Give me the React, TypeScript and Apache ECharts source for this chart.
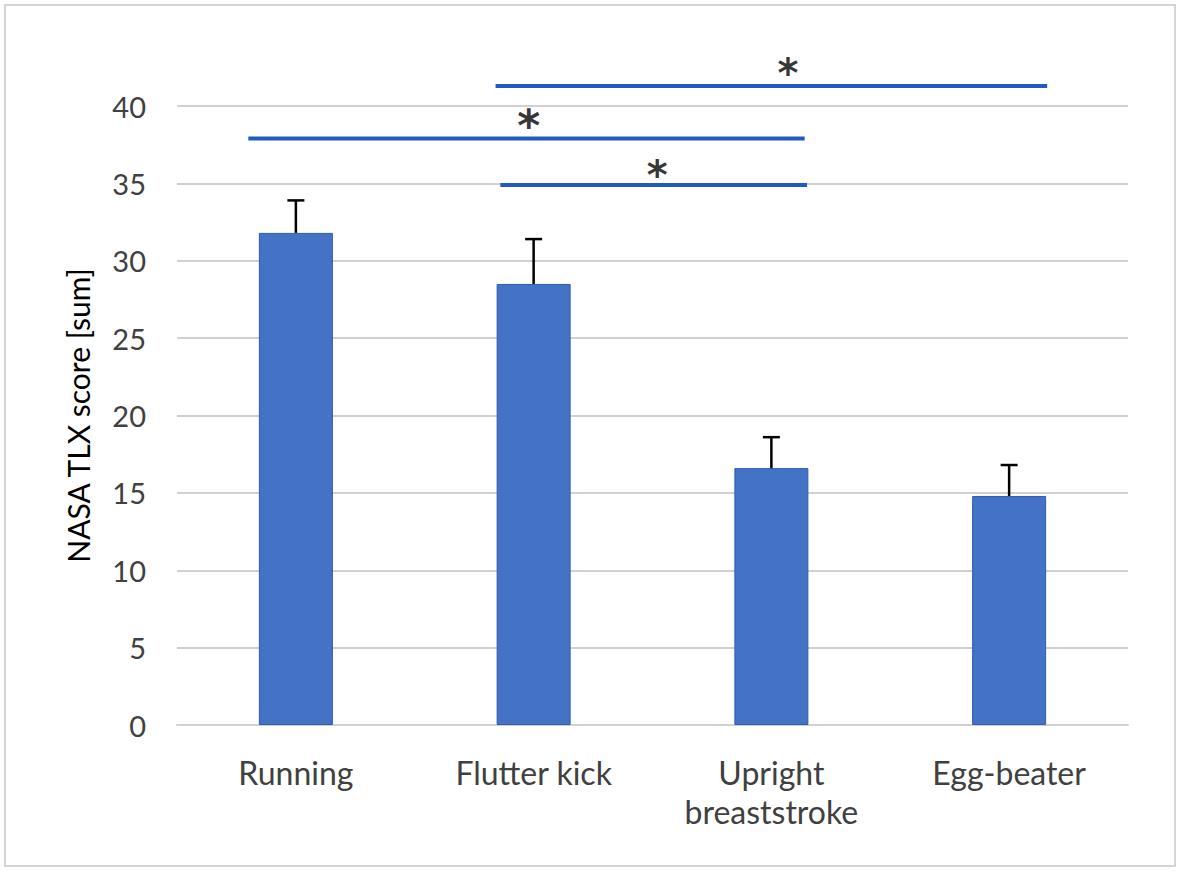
import React, { useEffect, useRef } from "react";
import * as echarts from "echarts";

const categories = ["Running", "Flutter kick", "Upright\nbreaststroke", "Egg-beater"];
const means = [31.8, 28.5, 16.6, 14.8];
const upperErr = [33.9, 31.4, 18.6, 16.8];
const yTicks = { min: 0, max: 40, interval: 5 };

// significance bars: [xStart, xEnd, y] in category-index units
const sigLines = [
  [0.84, 3.16, 41.3],
  [-0.2, 2.14, 37.9],
  [0.86, 2.15, 34.9],
];
// stars: [x, y]
const sigStars = [
  [2.07, 42.7],
  [0.98, 39.35],
  [1.52, 36.15],
];
const starSizes = [40, 44, 40];

const FONT = "Lato, 'Open Sans', sans-serif";

export default function App() {
  const ref = useRef<HTMLDivElement>(null);
  useEffect(() => {
    if (!ref.current) return;
    const chart = echarts.init(ref.current, null, { renderer: "svg" });
    const lineSeries = sigLines.map((l) => ({
      type: "line",
      xAxisIndex: 1,
      yAxisIndex: 0,
      data: [
        [l[0], l[2]],
        [l[1], l[2]],
      ],
      symbol: "none",
      clip: false,
      lineStyle: { color: "#1F5BC2", width: 4 },
      silent: true,
      z: 5,
    }));
    chart.setOption({
      animation: false,
      backgroundColor: "#ffffff",
      grid: { left: 177, right: 53, top: 106, bottom: 148 },
      graphic: [
        {
          type: "rect",
          shape: { x: 5, y: 5, width: 1170, height: 861 },
          style: { fill: "none", stroke: "#d4d4d4", lineWidth: 2 },
          silent: true,
        },
      ],
      xAxis: [
        {
          type: "category",
          data: categories,
          axisLine: { show: true, lineStyle: { color: "#d0d0d0", width: 2 } },
          axisTick: { show: false },
          axisLabel: {
            color: "#404040",
            fontFamily: FONT,
            fontSize: 32,
            margin: 28,
            lineHeight: 39,
          },
        },
        {
          type: "value",
          min: -0.5,
          max: 3.5,
          show: false,
        },
      ],
      yAxis: {
        type: "value",
        min: yTicks.min,
        max: yTicks.max,
        interval: yTicks.interval,
        name: "NASA TLX score [sum]",
        nameLocation: "middle",
        nameGap: 84,
        nameTextStyle: { color: "#000000", fontFamily: FONT, fontSize: 30 },
        axisLine: { show: false },
        axisTick: { show: false },
        axisLabel: { color: "#404040", fontFamily: FONT, fontSize: 29, margin: 31 },
        splitLine: { lineStyle: { color: "#d0d0d0", width: 2 } },
      },
      series: [
        {
          type: "bar",
          data: means,
          barWidth: 74,
          itemStyle: { color: "#4472C4", borderColor: "#2F5BB0", borderWidth: 1 },
          z: 2,
        },
        {
          type: "custom",
          data: means.map((m, i) => [i, m, upperErr[i]]),
          z: 3,
          renderItem: (params: any, api: any) => {
            const x = api.value(0);
            const base = api.coord([x, api.value(1)]);
            const top = api.coord([x, api.value(2)]);
            const cap = 8.5;
            const style = { stroke: "#000000", lineWidth: 2.5 };
            return {
              type: "group",
              children: [
                { type: "line", shape: { x1: base[0], y1: base[1], x2: top[0], y2: top[1] }, style },
                { type: "line", shape: { x1: top[0] - cap, y1: top[1], x2: top[0] + cap, y2: top[1] }, style },
              ],
            };
          },
        },
        ...lineSeries,
        {
          type: "scatter",
          xAxisIndex: 1,
          yAxisIndex: 0,
          data: sigStars.map((s, i) => ({
            value: s,
            label: { fontSize: starSizes[i] },
          })),
          symbolSize: 1,
          itemStyle: { color: "rgba(0,0,0,0)" },
          clip: false,
          silent: true,
          z: 6,
          label: {
            show: true,
            position: "inside",
            formatter: "*",
            color: "#000000",
            fontWeight: "bold",
            fontFamily: "'DejaVu Sans', sans-serif",
            offset: [0, 9],
          },
        },
      ],
    });
    return () => chart.dispose();
  }, []);
  return (
    <div
      ref={ref}
      style={{ position: "fixed", left: 0, top: 0, width: 1181, height: 873, background: "#fff" }}
    />
  );
}
